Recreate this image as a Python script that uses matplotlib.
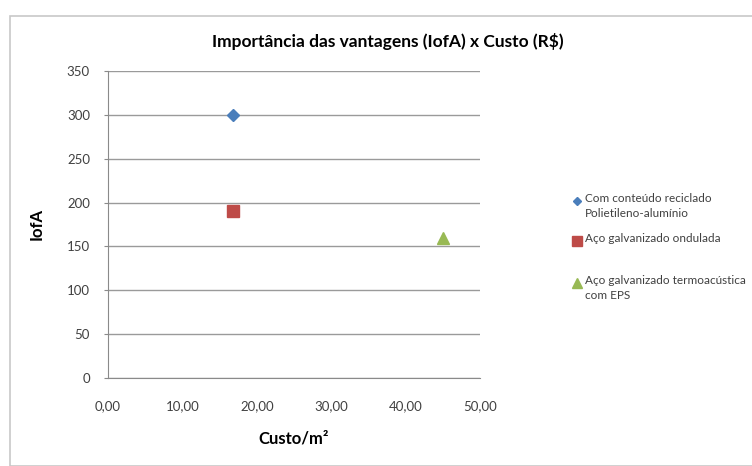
import matplotlib.pyplot as plt
from matplotlib.patches import Rectangle
from matplotlib.lines import Line2D

plt.rcParams['font.family'] = ['Lato', 'DejaVu Sans']

labels = ["Com conteúdo reciclado\nPolietileno-alumínio",
          "Aço galvanizado ondulada",
          "Aço galvanizado termoacústica\ncom EPS"]
custo = [16.8, 16.8, 45.0]
iofa = [300, 190, 160]
colors = ["#4a7ebb", "#be4b48", "#98b954"]
markers = ["D", "s", "^"]
sizes = [6, 9, 9]
xticks = [0, 10, 20, 30, 40, 50]
yticks = [0, 50, 100, 150, 200, 250, 300, 350]

W, H = 752, 466
fig = plt.figure(figsize=(W/100, H/100), dpi=100)
fig.patches.append(Rectangle((10/W, 0), 745/W, 450/H, transform=fig.transFigure,
                             facecolor="white", edgecolor="#c8c8c8", lw=1.2, zorder=-5))

ax = fig.add_axes([108/W, 1-378/H, 372/W, 307/H])
ax.patch.set_alpha(0)
for x, y, c, m, s in zip(custo, iofa, colors, markers, sizes):
    ax.plot([x], [y], linestyle="none", marker=m, color=c, markersize=s)

ax.set_xlim(0, 50)
ax.set_ylim(0, 350)
ax.set_xticks(xticks)
ax.set_xticklabels(["%d,00" % v for v in xticks])
ax.set_yticks(yticks)
ax.yaxis.grid(True, color="#9a9a9a", lw=1)
ax.set_axisbelow(True)
for s in ["top", "right"]:
    ax.spines[s].set_visible(False)
for s in ["left", "bottom"]:
    ax.spines[s].set_color("#8a8a8a")
ax.tick_params(axis="both", labelsize=9.5, colors="#8a8a8a", labelcolor="#404040", length=3)
ax.tick_params(axis="x", length=0, pad=16)
ax.tick_params(axis="y", pad=10)

ax.set_xlabel("Custo/m²", fontsize=12, fontweight="bold", labelpad=13)
ax.set_ylabel("IofA", fontsize=12, fontweight="bold", labelpad=16)
fig.text(388/W, 1-42/H, "Importância das vantagens (IofA) x Custo (R$)",
         ha="center", va="center", fontsize=12.5, fontweight="bold")

# legend, laid out like the Excel one
leg_rows = [200, 240, 282]
for lab, c, m, s, yy in zip(labels, colors, markers, sizes, leg_rows):
    fig.add_artist(Line2D([577/W], [1-(yy+1)/H], transform=fig.transFigure, linestyle="none",
                          marker=m, color=c, markersize=s*0.75))
    fig.text(585/W, 1-(yy-7)/H, lab, ha="left", va="top", fontsize=8.5,
             color="#404040", linespacing=1.4)

fig.savefig("out.png", dpi=100)
